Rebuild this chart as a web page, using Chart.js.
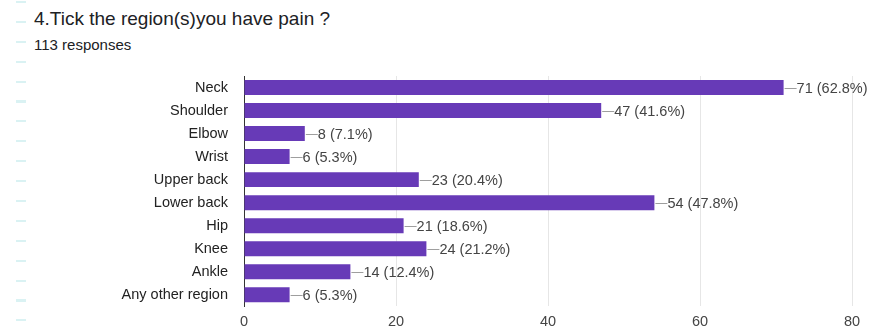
<!DOCTYPE html>
<html>
<head>
<meta charset="utf-8">
<script src="https://cdn.jsdelivr.net/npm/chart.js@4/dist/chart.umd.min.js"></script>
<style>
  body { margin: 0; background: #fff; }
  #page { position: relative; width: 871px; height: 331px; overflow: hidden; font-family: "Liberation Sans", Arial, sans-serif; }
  #edge { position: absolute; left: 16px; top: 1px; width: 10px; height: 330px;
          background: repeating-linear-gradient(to bottom, #daf2f3 0 2px, transparent 2px 19.9px); }
  #title { position: absolute; left: 34px; top: 8px; font-size: 19px; color: #202124; white-space: nowrap; }
  #sub { position: absolute; left: 34px; top: 36px; font-size: 15px; color: #202124; }
  #wrap { position: absolute; left: 0; top: 0; width: 871px; height: 331px; }
</style>
</head>
<body>
<div id="page">
  <div id="edge"></div>
  <div id="title">4.Tick the region(s)you have pain ?</div>
  <div id="sub">113 responses</div>
  <div id="wrap"><canvas id="myChart"></canvas></div>
</div>
<script>
const regions = ["Neck", "Shoulder", "Elbow", "Wrist", "Upper back", "Lower back", "Hip", "Knee", "Ankle", "Any other region"];
const counts = [71, 47, 8, 6, 23, 54, 21, 24, 14, 6];
const percents = ["62.8%", "41.6%", "7.1%", "5.3%", "20.4%", "47.8%", "18.6%", "21.2%", "12.4%", "5.3%"];
const xTicks = [0, 20, 40, 60, 80];

// leader line + "n (p%)" label after each bar
const barLabels = {
  id: "barLabels",
  afterDatasetsDraw(chart) {
    const ctx = chart.ctx;
    const meta = chart.getDatasetMeta(0);
    ctx.save();
    ctx.font = "14.5px 'Liberation Sans', Arial, sans-serif";
    ctx.fillStyle = "#444";
    ctx.strokeStyle = "#9e9e9e";
    ctx.lineWidth = 1;
    ctx.textBaseline = "middle";
    meta.data.forEach((bar, i) => {
      const y = Math.round(bar.y) + 0.5;
      ctx.beginPath();
      ctx.moveTo(bar.x + 1, y);
      ctx.lineTo(bar.x + 13, y);
      ctx.stroke();
      ctx.fillText(counts[i] + " (" + percents[i] + ")", bar.x + 13, bar.y + 1);
    });
    ctx.restore();
  }
};

const canvas = document.getElementById("myChart");

const myChart = new Chart(canvas, {
  type: "bar",
  data: {
    labels: regions,
    datasets: [
      {
        data: counts,
        backgroundColor: "#673ab7",
        borderWidth: 0,
        categoryPercentage: 1,
        barPercentage: 0.65,
      },
    ],
  },
  options: {
    indexAxis: "y",
    responsive: true,
    maintainAspectRatio: false,
    animation: false,
    layout: { padding: { top: 76, right: 19, bottom: -8, left: 0 } },
    plugins: {
      legend: { display: false },
      tooltip: { enabled: false },
    },
    scales: {
      x: {
        min: 0,
        max: 80,
        afterBuildTicks: (scale) => {
          scale.ticks = xTicks.map((v) => ({ value: v }));
        },
        grid: { color: "#e6e6e6", drawTicks: false },
        border: { display: false },
        ticks: {
          padding: 7,
          color: "#444",
          font: { family: "'Liberation Sans', Arial, sans-serif", size: 14.5 },
        },
      },
      y: {
        afterFit: (scale) => { scale.width = 244; },
        grid: { display: false, drawTicks: false },
        border: { display: true, color: "#333", width: 1 },
        ticks: {
          padding: 16,
          color: "#222",
          font: { family: "'Liberation Sans', Arial, sans-serif", size: 14.5 },
        },
      },
    },
  },
  plugins: [barLabels],
});
</script>
</body>
</html>
